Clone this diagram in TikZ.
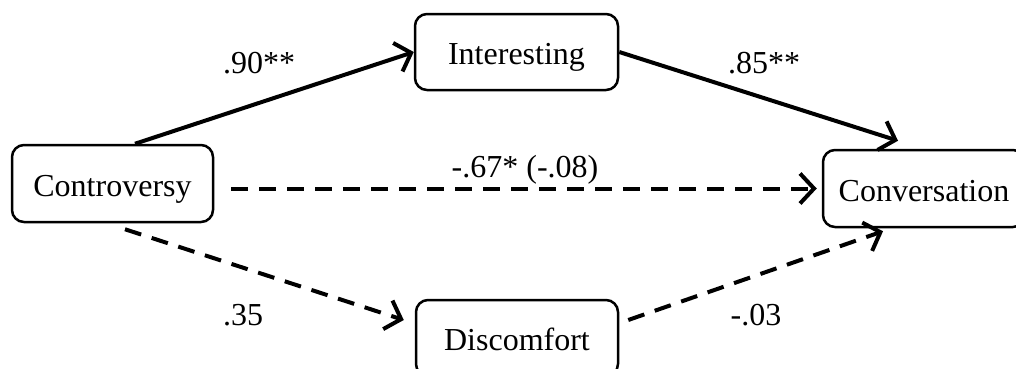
\documentclass[tikz,border=0pt]{standalone}
\usepackage{fontspec}
\setmainfont{Liberation Serif}
\usetikzlibrary{arrows.meta}
\begin{document}
\begin{tikzpicture}[x=1pt,y=-1pt,
  box/.style={draw,line width=2.5pt,rounded corners=12pt,inner sep=0pt,
    text height=25pt,text depth=0pt,
    font=\fontsize{32}{38}\selectfont},
  lbl/.style={anchor=base,inner sep=0pt,font=\fontsize{32}{38}\selectfont},
  conn/.style={line width=4pt,-{Straight Barb[length=14pt,width=30pt,line width=4pt]}},
  dsh/.style={conn,dash pattern=on 17pt off 11pt}]
\useasboundingbox (0,0) rectangle (1016,368);
\node[box,minimum width=201pt,minimum height=77pt] (ctrl) at (112.5,183.5) {Controversy};
\node[box,minimum width=203pt,minimum height=76pt] (int) at (516.5,52) {Interesting};
\node[box,minimum width=202pt,minimum height=76pt] (disc) at (517,338) {Discomfort};
\node[box,minimum width=202pt,minimum height=77pt] (conv) at (924,188.5) {Conversation};
\draw[conn] ([xshift=22.5pt]ctrl.north) -- (int.west);
\draw[conn] (int.east) -- ([xshift=-26pt,yshift=8pt]conv.north);
\draw[dsh,shorten <=17pt,shorten >=5pt] (ctrl.east |- conv.west) -- (conv.west);
\draw[dsh] ([xshift=12.5pt,yshift=-6pt]ctrl.south) -- ([xshift=-11pt,yshift=18pt]disc.west);
\draw[dsh] ([xshift=9pt,yshift=18pt]disc.east) -- ([xshift=-41pt,yshift=-3pt]conv.south);
\node[lbl] (l1) at (259,73) {.90**};
\node[lbl] (l2) at (764,73) {.85**};
\node[lbl] (l3) at (525,177) {-.67* (-.08)};
\node[lbl] (l4) at (243,325) {.35};
\node[lbl] (l5) at (756,325) {-.03};
\end{tikzpicture}
\end{document}
